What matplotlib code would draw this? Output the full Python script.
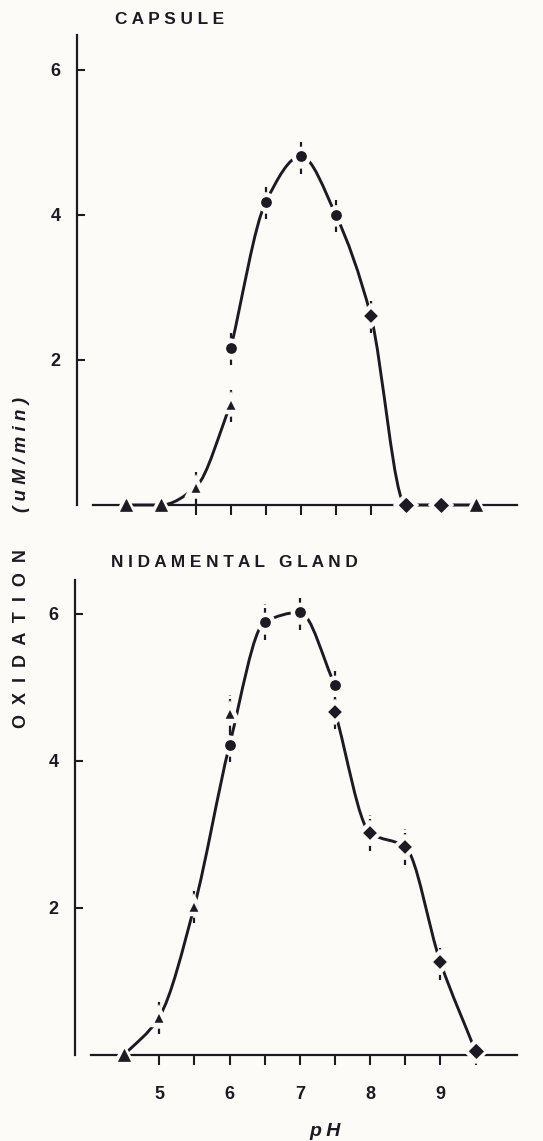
import numpy as np
import matplotlib
matplotlib.use('Agg')
import matplotlib.pyplot as plt
from matplotlib.path import Path
from matplotlib.patches import PathPatch

INK = '#1c1a22'
BG = '#fcfbf8'

# ---- capsule (top panel) ----
cap_tri_x = [4.5, 5.0, 5.5, 6.0, 9.5]
cap_tri_y = [0.0, 0.0, 0.25, 1.39, 0.0]
cap_circ_x = [6.0, 6.5, 7.0, 7.5]
cap_circ_y = [2.17, 4.18, 4.81, 4.00]
cap_dia_x = [8.0, 8.5, 9.0]
cap_dia_y = [2.61, 0.0, 0.0]

# ---- nidamental gland (bottom panel) ----
nid_tri_x = [4.5, 5.0, 5.5, 6.0]
nid_tri_y = [0.0, 0.52, 2.03, 4.65]
nid_circ_x = [6.0, 6.5, 7.0, 7.5]
nid_circ_y = [4.22, 5.89, 6.02, 5.03]
nid_dia_x = [7.5, 8.0, 8.5, 9.0, 9.5]
nid_dia_y = [4.67, 3.02, 2.83, 1.26, 0.05]

xticks = [4.5, 5.0, 5.5, 6.0, 6.5, 7.0, 7.5, 8.0, 8.5, 9.0, 9.5]
xlabels = ['', '5', '', '6', '', '7', '', '8', '', '9', '']
yticks = [2, 4, 6]


def smooth_curve(ax, xs, ys):
    # monotone cubic through the points, drawn as bezier segments
    xs = np.asarray(xs, float)
    ys = np.asarray(ys, float)
    h = np.diff(xs)
    d = np.diff(ys) / h
    n = len(xs)
    m = np.zeros(n)
    m[0] = d[0]
    m[-1] = d[-1]
    for k in range(1, n - 1):
        if d[k - 1] * d[k] <= 0:
            m[k] = 0.0
        else:
            w1 = 2 * h[k] + h[k - 1]
            w2 = h[k] + 2 * h[k - 1]
            m[k] = (w1 + w2) / (w1 / d[k - 1] + w2 / d[k])
    verts = [(xs[0], ys[0])]
    codes = [Path.MOVETO]
    for k in range(n - 1):
        verts += [(xs[k] + h[k] / 3, ys[k] + m[k] * h[k] / 3),
                  (xs[k + 1] - h[k] / 3, ys[k + 1] - m[k + 1] * h[k] / 3),
                  (xs[k + 1], ys[k + 1])]
        codes += [Path.CURVE4] * 3
    ax.add_patch(PathPatch(Path(verts, codes), fill=False, lw=2.1,
                           edgecolor=INK, capstyle='round', zorder=2,
                           clip_on=False))


def points(ax, xs, ys, marker, ms):
    xs = np.asarray(xs)
    ys = np.asarray(ys)
    up = ys > 0.1
    if up.any():
        eb = ax.errorbar(xs[up], ys[up], yerr=0.24, fmt='none', ecolor=INK,
                         elinewidth=1.6, capsize=0, zorder=3)
        eb[2][0].set_linestyle((0, (2.4, 1.6)))
        eb[2][0].set_clip_on(False)
    ax.plot(xs, ys, linestyle='none', marker=marker, ms=ms, mfc=INK,
            mec=BG, mew=3.2, zorder=4, clip_on=False)
    ax.plot(xs[~up], ys[~up], linestyle='none', marker=marker, ms=ms - 3.2,
            mfc=INK, mec=INK, mew=0.5, zorder=5, clip_on=False)


def setup(ax, top, show_labels):
    ax.set_facecolor('none')
    ax.set_xlim(3.8, 10.09)
    ax.set_ylim(0, top)
    for s in ['top', 'right']:
        ax.spines[s].set_visible(False)
    for s in ['left', 'bottom']:
        ax.spines[s].set_linewidth(1.6)
        ax.spines[s].set_color(INK)
    ax.spines['left'].set_bounds(0, top)
    ax.spines['bottom'].set_bounds(4.03, 10.09)
    ax.set_xticks(xticks)
    ax.set_xticklabels(xlabels if show_labels else [''] * len(xticks))
    ax.set_yticks(yticks)
    ax.tick_params(axis='x', direction='out', length=7, width=1.5,
                   colors=INK, pad=15, labelsize=13)
    ax.tick_params(axis='y', direction='in', length=6, width=1.5,
                   colors=INK, pad=12, labelsize=13)
    for lab in ax.get_xticklabels() + ax.get_yticklabels():
        lab.set_fontweight('bold')


def main():
    plt.rcParams['font.family'] = ['Liberation Sans', 'DejaVu Sans']
    fig = plt.figure(figsize=(5.43, 11.41), dpi=100, facecolor=BG)

    ax1 = fig.add_axes([77 / 543, 1 - 505 / 1141, 440 / 543, 470 / 1141])
    setup(ax1, 6.48, False)
    smooth_curve(ax1, cap_tri_x[:4], cap_tri_y[:4])
    smooth_curve(ax1, cap_circ_x + cap_dia_x + cap_tri_x[4:],
                 cap_circ_y + cap_dia_y + cap_tri_y[4:])
    points(ax1, cap_tri_x, cap_tri_y, '^', 12)
    points(ax1, cap_circ_x, cap_circ_y, 'o', 11)
    points(ax1, cap_dia_x, cap_dia_y, 'D', 10)

    ax2 = fig.add_axes([75 / 543, 1 - 1055 / 1141, 442 / 543, 475 / 1141])
    setup(ax2, 6.46, True)
    smooth_curve(ax2, nid_tri_x[:3] + nid_circ_x, nid_tri_y[:3] + nid_circ_y)
    smooth_curve(ax2, nid_dia_x, nid_dia_y)
    points(ax2, nid_tri_x, nid_tri_y, '^', 12)
    points(ax2, nid_circ_x, nid_circ_y, 'o', 11)
    points(ax2, nid_dia_x, nid_dia_y, 'D', 10)

    fig.text(115 / 543, 1 - 24 / 1141, 'C A P S U L E', fontsize=12.4,
             fontweight='bold', color=INK, ha='left', va='baseline')
    fig.text(111 / 543, 1 - 567 / 1141, 'N I D A M E N T A L   G L A N D',
             fontsize=12.4, fontweight='bold', color=INK, ha='left',
             va='baseline')
    fig.text(22 / 543, 1 - 639 / 1141, 'O  X  I  D  A  T  I  O  N',
             rotation=90, fontsize=13, fontweight='bold', color=INK,
             ha='center', va='center')
    fig.text(22 / 543, 1 - 454 / 1141, '( u M / m i n )', rotation=90,
             fontsize=13.5, fontweight='bold', style='italic', color=INK,
             ha='center', va='center')
    fig.text(325 / 543, 1 - 1131 / 1141, 'p H', fontsize=14,
             fontweight='bold', style='italic', color=INK, ha='center',
             va='center')

    fig.savefig('out.png', dpi=100, facecolor=BG)


if __name__ == '__main__':
    main()
